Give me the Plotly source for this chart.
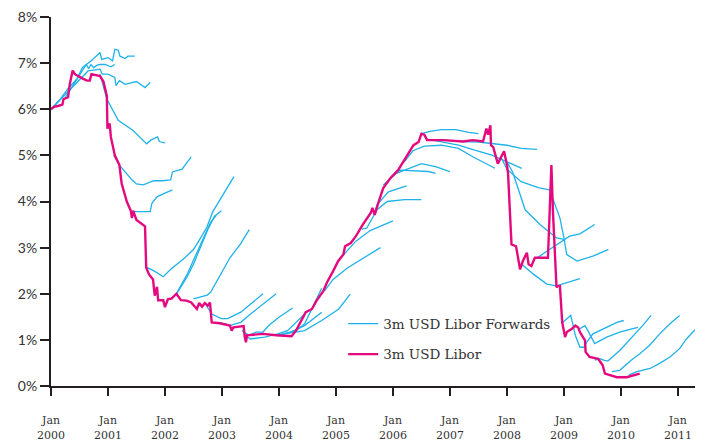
import plotly.graph_objects as go

# ---- data (decimal years, percent) ----
libor_t = [2000.0, 2000.05, 2000.12, 2000.2, 2000.22, 2000.3, 2000.33, 2000.36, 2000.38, 2000.42,
           2000.47, 2000.55, 2000.63, 2000.68, 2000.71, 2000.8, 2000.86, 2000.92, 2000.98, 2000.99,
           2001.03, 2001.05, 2001.12, 2001.2, 2001.24, 2001.33, 2001.4, 2001.42, 2001.44, 2001.5,
           2001.65, 2001.67, 2001.72, 2001.79, 2001.82, 2001.86, 2001.88, 2001.97, 2002.0, 2002.05,
           2002.12, 2002.2, 2002.28, 2002.38, 2002.46, 2002.56, 2002.6, 2002.65, 2002.7, 2002.75,
           2002.79, 2002.82, 2002.96, 2003.14, 2003.17, 2003.2, 2003.33, 2003.38, 2003.4, 2003.42,
           2003.44, 2003.72, 2003.95, 2004.22, 2004.3, 2004.39, 2004.47, 2004.58, 2004.66, 2004.78,
           2004.84, 2004.95, 2005.04, 2005.13, 2005.16, 2005.26, 2005.35, 2005.47, 2005.61, 2005.64,
           2005.68, 2005.75, 2005.83, 2005.95, 2006.09, 2006.18, 2006.27, 2006.36, 2006.45, 2006.5,
           2006.55, 2006.6, 2006.88, 2007.23, 2007.4, 2007.58, 2007.64, 2007.67, 2007.71, 2007.72,
           2007.76, 2007.84, 2007.9, 2007.95, 2008.0, 2008.02, 2008.08, 2008.16, 2008.23, 2008.28,
           2008.35, 2008.38, 2008.43, 2008.49, 2008.72, 2008.78, 2008.81, 2008.87, 2008.9, 2008.93,
           2008.97, 2009.02, 2009.05, 2009.14, 2009.2, 2009.25, 2009.28, 2009.37, 2009.38, 2009.45,
           2009.6, 2009.68, 2009.72, 2009.93, 2010.1, 2010.33]
libor_v = [6.0, 6.05, 6.07, 6.1, 6.22, 6.26, 6.55, 6.75, 6.84, 6.76,
           6.72, 6.67, 6.62, 6.62, 6.76, 6.74, 6.72, 6.6, 6.29, 5.58,
           5.69, 5.4, 5.0, 4.79, 4.39, 4.0, 3.8, 3.64, 3.8, 3.6,
           3.46, 2.57, 2.42, 2.31, 1.96, 2.15, 1.86, 1.86, 1.71, 1.88,
           1.9, 2.0, 1.86, 1.85, 1.81, 1.67, 1.8, 1.72, 1.8, 1.74,
           1.81, 1.38, 1.36, 1.31, 1.2, 1.27, 1.29, 1.3, 1.06, 0.95,
           1.1, 1.13, 1.1, 1.08, 1.2, 1.42, 1.6, 1.67, 1.85, 2.06,
           2.24, 2.49, 2.71, 2.85, 3.03, 3.1, 3.25, 3.5, 3.75, 3.86,
           3.71, 4.0, 4.29, 4.5, 4.68, 4.86, 5.04, 5.22, 5.29, 5.47,
           5.45, 5.33, 5.33, 5.3, 5.33, 5.3, 5.58, 5.45, 5.65, 5.22,
           5.18, 4.82, 4.97, 5.09, 4.79, 4.6, 3.07, 3.03, 2.53, 2.71,
           2.89, 2.64, 2.6, 2.78, 2.78, 4.79, 3.71, 2.14, 2.17, 2.17,
           1.38, 1.06, 1.17, 1.24, 1.31, 1.27, 1.17, 0.99, 0.74, 0.63,
           0.59, 0.45, 0.27, 0.19, 0.19, 0.27]

# forward curves: one list of dates and one list of values per curve
fwd_t = [
    [2000.0, 2000.15, 2000.3, 2000.45, 2000.55, 2000.62, 2000.66, 2000.7, 2000.75, 2000.8, 2000.86, 2000.95, 2001.05, 2001.12],
    [2000.25, 2000.4, 2000.5, 2000.62, 2000.71, 2000.8, 2000.86, 2000.89, 2001.0, 2001.08, 2001.12, 2001.18, 2001.21, 2001.3, 2001.35, 2001.47],
    [2000.0, 2000.2, 2000.4, 2000.55, 2000.65, 2000.86, 2000.9, 2001.0, 2001.12, 2001.14, 2001.2, 2001.3, 2001.5, 2001.65, 2001.74],
    [2000.86, 2000.98, 2001.18, 2001.3, 2001.44, 2001.68, 2001.75, 2001.87, 2001.9, 2002.0],
    [2001.1, 2001.2, 2001.42, 2001.5, 2001.62, 2001.8, 2001.95, 2002.1, 2002.13, 2002.3, 2002.46],
    [2001.45, 2001.74, 2001.77, 2001.86, 2002.0, 2002.13],
    [2001.68, 2001.8, 2001.97, 2002.1, 2002.35, 2002.5, 2002.61, 2002.73, 2002.84, 2003.21],
    [2002.2, 2002.38, 2002.5, 2002.61, 2002.75, 2002.87, 2002.99],
    [2002.2, 2002.4, 2002.58, 2002.7, 2002.8, 2002.9],
    [2002.5, 2002.6, 2002.74, 2002.8, 2002.96, 2003.14, 2003.32, 2003.48],
    [2002.7, 2002.82, 2002.99, 2003.1, 2003.33, 2003.5, 2003.72],
    [2002.96, 2003.14, 2003.22, 2003.33, 2003.47, 2003.72, 2003.95],
    [2003.35, 2003.47, 2003.6, 2003.72, 2003.82, 2004.0, 2004.24],
    [2003.4, 2003.5, 2003.75, 2003.98, 2004.15, 2004.3, 2004.5],
    [2004.0, 2004.3, 2004.45, 2004.6, 2004.75],
    [2003.95, 2004.2, 2004.45, 2004.75],
    [2004.1, 2004.45, 2004.75, 2005.05, 2005.25],
    [2004.8, 2004.95, 2005.2, 2005.45, 2005.78],
    [2005.1, 2005.35, 2005.6, 2005.8, 2006.0],
    [2005.45, 2005.54, 2005.72, 2005.9, 2006.2, 2006.5],
    [2005.68, 2005.72, 2005.92, 2006.24],
    [2005.83, 2006.06, 2006.5, 2006.76, 2007.0],
    [2005.98, 2006.12, 2006.62, 2006.75],
    [2006.2, 2006.35, 2006.55, 2006.85, 2007.15, 2007.4, 2007.79],
    [2006.5, 2006.65, 2006.85, 2007.1, 2007.33, 2007.5],
    [2006.9, 2007.2, 2007.5, 2007.75, 2008.0, 2008.25, 2008.53],
    [2006.6, 2006.9, 2007.15, 2007.45, 2007.75, 2008.0, 2008.26],
    [2007.9, 2008.0, 2008.25, 2008.55, 2008.75],
    [2008.0, 2008.1, 2008.32, 2008.58, 2008.87, 2009.0],
    [2008.75, 2008.85, 2008.93, 2009.0, 2009.05, 2009.23, 2009.52, 2009.78],
    [2008.49, 2008.53, 2008.7, 2008.93, 2009.1, 2009.28, 2009.54],
    [2008.23, 2008.26, 2008.47, 2008.7, 2008.87, 2009.05, 2009.28],
    [2008.98, 2009.05, 2009.12, 2009.2, 2009.28, 2009.35, 2009.4, 2009.51, 2009.75, 2009.93, 2010.05],
    [2009.28, 2009.37, 2009.42, 2009.54, 2009.75, 2009.98, 2010.14, 2010.3],
    [2009.54, 2009.63, 2009.7, 2009.77, 2009.98, 2010.2, 2010.38, 2010.53],
    [2009.84, 2009.98, 2010.18, 2010.33, 2010.5, 2010.68, 2010.86, 2011.03],
    [2010.14, 2010.28, 2010.51, 2010.68, 2010.86, 2011.03, 2011.15, 2011.3],
]
fwd_v = [
    [6.0, 6.2, 6.45, 6.65, 6.9, 6.97, 6.88, 6.97, 6.9, 6.95, 6.97, 6.97, 6.92, 6.97],
    [6.25, 6.55, 6.75, 6.97, 7.05, 7.15, 7.23, 7.08, 7.12, 7.05, 7.3, 7.28, 7.15, 7.1, 7.15, 7.15],
    [6.0, 6.25, 6.5, 6.7, 6.83, 6.87, 6.76, 6.76, 6.69, 6.51, 6.62, 6.54, 6.6, 6.47, 6.58],
    [6.76, 6.22, 5.76, 5.65, 5.54, 5.25, 5.33, 5.4, 5.3, 5.27],
    [5.0, 4.79, 4.47, 4.38, 4.36, 4.45, 4.45, 4.47, 4.64, 4.7, 4.97],
    [3.78, 3.78, 3.96, 4.1, 4.18, 4.25],
    [2.57, 2.5, 2.37, 2.53, 2.78, 2.96, 3.18, 3.43, 3.78, 4.54],
    [1.99, 2.35, 2.64, 2.96, 3.39, 3.68, 3.8],
    [2.0, 2.45, 2.95, 3.3, 3.55, 3.7],
    [1.89, 1.92, 1.97, 2.03, 2.39, 2.78, 3.07, 3.39],
    [1.8, 1.56, 1.46, 1.46, 1.6, 1.78, 2.0],
    [1.38, 1.31, 1.34, 1.38, 1.53, 1.78, 2.0],
    [1.2, 1.1, 1.17, 1.17, 1.31, 1.49, 1.69],
    [1.1, 1.02, 1.06, 1.13, 1.2, 1.38, 1.62],
    [1.1, 1.2, 1.35, 1.75, 2.12],
    [1.1, 1.17, 1.31, 1.6],
    [1.13, 1.2, 1.42, 1.67, 1.99],
    [2.06, 2.31, 2.56, 2.75, 3.0],
    [2.8, 3.14, 3.37, 3.48, 3.58],
    [3.4, 3.42, 3.82, 4.0, 4.04, 4.04],
    [3.75, 3.93, 4.21, 4.34],
    [4.36, 4.61, 4.82, 4.75, 4.65],
    [4.55, 4.68, 4.65, 4.61],
    [4.86, 5.1, 5.2, 5.22, 5.15, 4.97, 4.72],
    [5.47, 5.52, 5.56, 5.56, 5.5, 5.47],
    [5.33, 5.3, 5.29, 5.25, 5.22, 5.15, 5.13],
    [5.35, 5.28, 5.22, 5.11, 5.0, 4.86, 4.72],
    [4.95, 4.7, 4.43, 4.3, 4.25],
    [4.86, 4.64, 3.82, 3.5, 3.21, 3.18],
    [4.25, 3.9, 3.64, 3.21, 2.85, 2.71, 2.82, 2.96],
    [2.78, 2.78, 2.92, 3.1, 3.25, 3.3, 3.5],
    [2.53, 2.64, 2.42, 2.21, 2.17, 2.24, 2.33],
    [1.38, 1.45, 1.53, 1.1, 0.84, 0.84, 0.95, 1.13, 1.27, 1.38, 1.42],
    [1.24, 1.31, 1.2, 0.92, 1.06, 1.17, 1.22, 1.27],
    [0.56, 0.59, 0.56, 0.54, 0.77, 1.06, 1.31, 1.53],
    [0.31, 0.34, 0.56, 0.7, 0.88, 1.13, 1.35, 1.53],
    [0.24, 0.31, 0.38, 0.49, 0.63, 0.81, 1.02, 1.22],
]

tick_years = list(range(2000, 2012))
tick_text = [f"Jan<br>{y}" for y in tick_years]
y_ticks = list(range(0, 9))
y_text = [f"{v}%" for v in y_ticks]

CYAN = "#1FB2EA"
MAGENTA = "#E5097F"

fig = go.Figure()
for i, (t, v) in enumerate(zip(fwd_t, fwd_v)):
    fig.add_trace(go.Scatter(
        x=t, y=v, mode="lines", line=dict(color=CYAN, width=1.3),
        name="3m USD Libor Forwards", legendgroup="fwd", showlegend=(i == 0),
        hoverinfo="skip"))
fig.add_trace(go.Scatter(
    x=libor_t, y=libor_v, mode="lines", line=dict(color=MAGENTA, width=2.4),
    name="3m USD Libor", legendgroup="libor"))

axis_col = "#231F20"
fig.update_layout(
    width=705, height=441,
    margin=dict(l=43, r=18, t=9, b=63),
    paper_bgcolor="white", plot_bgcolor="white",
    showlegend=True,
    legend=dict(x=0.4537, y=0.2105, xanchor="left", yanchor="top",
                bgcolor="rgba(0,0,0,0)", traceorder="grouped", tracegroupgap=10,
                itemwidth=30,
                font=dict(family="DejaVu Serif", size=13.5, color="#333333")),
    xaxis=dict(range=[2000, 2011.3], tickmode="array", tickvals=tick_years, ticktext=tick_text,
               automargin=False,
               showgrid=False, zeroline=False, showline=True, linecolor=axis_col, linewidth=2,
               ticks="outside", ticklen=8, tickwidth=2, tickcolor=axis_col,
               ticklabelstandoff=15,
               tickfont=dict(family="DejaVu Serif", size=11, color="#333333")),
    yaxis=dict(range=[0, 8], tickmode="array", tickvals=y_ticks, ticktext=y_text,
               automargin=False, ticklabeloverflow="allow",
               showgrid=False, zeroline=False, showline=True, linecolor=axis_col, linewidth=2,
               ticks="outside", ticklen=9, tickwidth=2, tickcolor=axis_col,
               tickfont=dict(family="Lato", size=14, color="#333333")),
)

fig.write_html("out.html")
